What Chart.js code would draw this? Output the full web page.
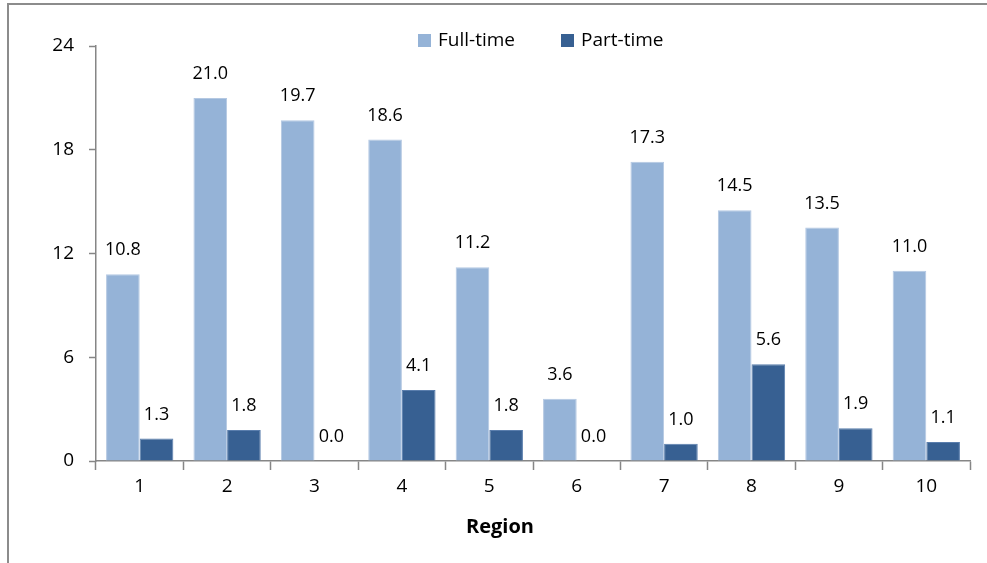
<!DOCTYPE html>
<html>
<head>
<meta charset="utf-8">
<script src="https://cdn.jsdelivr.net/npm/chart.js"></script>
<style>
  html, body { margin: 0; padding: 0; background: #fff; }
  #wrap { position: relative; width: 987px; height: 563px; overflow: hidden; }
  #frame { position: absolute; left: 7px; top: 3px; width: 1000px; height: 600px;
           border-top: 2px solid #8c8c8c; border-left: 2px solid #8c8c8c; }
  #legend { position: absolute; top: 26px; left: 418px; display: flex; gap: 46px;
            font: 19px "Open Sans", sans-serif; color: #000; }
  #legend span.sw { display: inline-block; width: 13px; height: 13px; margin-right: 7px; vertical-align: -1px; }
  canvas { position: absolute; left: 0; top: 0; }
</style>
</head>
<body>
<div id="wrap">
  <div id="frame"></div>
  <canvas id="chart" width="987" height="563"></canvas>
  <div id="legend"></div>
</div>
<script>
const regions = ['1', '2', '3', '4', '5', '6', '7', '8', '9', '10'];
const fullTime = [10.8, 21.0, 19.7, 18.6, 11.2, 3.6, 17.3, 14.5, 13.5, 11.0];
const partTime = [1.3, 1.8, 0.0, 4.1, 1.8, 0.0, 1.0, 5.6, 1.9, 1.1];
const seriesNames = ['Full-time', 'Part-time'];
const seriesColors = ['#95B3D7', '#376092'];
const yTicks = [0, 6, 12, 18, 24];
const xTitle = 'Region';

const FONT = '"Open Sans", sans-serif';
const axisColor = '#868686';

// value labels above each bar and the x axis title (sits left of centre in the original)
const valueLabels = {
  id: 'valueLabels',
  afterDatasetsDraw(chart) {
    const ctx = chart.ctx;
    ctx.save();
    ctx.font = '18px ' + FONT;
    ctx.fillStyle = '#000';
    ctx.textAlign = 'center';
    ctx.textBaseline = 'middle';
    chart.data.datasets.forEach((ds, i) => {
      chart.getDatasetMeta(i).data.forEach((bar, j) => {
        ctx.fillText(ds.data[j].toFixed(1), bar.x, bar.y - 24);
      });
    });
    ctx.font = 'bold 20px ' + FONT;
    ctx.fillText(xTitle, chart.scales.x.getPixelForValue(4.5) - 33, 527);
    ctx.restore();
  }
};

new Chart(document.getElementById('chart'), {
  type: 'bar',
  data: {
    labels: regions,
    datasets: [
      { label: seriesNames[0], data: fullTime, backgroundColor: seriesColors[0], borderColor: '#B4C8E2', borderWidth: 1 },
      { label: seriesNames[1], data: partTime, backgroundColor: seriesColors[1], borderColor: '#5A7EAD', borderWidth: 1 }
    ]
  },
  options: {
    responsive: false,
    animation: false,
    categoryPercentage: 0.77,
    barPercentage: 1.0,
    layout: { padding: { left: 10, right: 17, top: 46, bottom: 22 } },
    plugins: {
      legend: { display: false },
      tooltip: { enabled: false }
    },
    scales: {
      x: {
        grid: { display: true, drawOnChartArea: false, offset: true, color: axisColor, tickLength: 9, tickWidth: 1.5 },
        border: { color: axisColor, width: 1.5 },
        ticks: { color: '#000', font: { family: FONT, size: 19 }, padding: 5 },
        afterFit(scale) { scale.height = 80; }
      },
      y: {
        min: 0, max: 24,
        afterBuildTicks(scale) { scale.ticks = yTicks.map(v => ({ value: v })); },
        grid: { display: true, drawOnChartArea: false, color: axisColor, tickLength: 7, tickWidth: 1.5 },
        border: { color: axisColor, width: 1.5 },
        ticks: { color: '#000', font: { family: FONT, size: 19 }, padding: 15 },
        afterFit(scale) { scale.width = 86; }
      }
    }
  },
  plugins: [valueLabels]
});

const legend = document.getElementById('legend');
seriesNames.forEach((name, i) => {
  const item = document.createElement('div');
  item.innerHTML = '<span class="sw" style="background:' + seriesColors[i] + '"></span>' + name;
  legend.appendChild(item);
});
</script>
</body>
</html>
